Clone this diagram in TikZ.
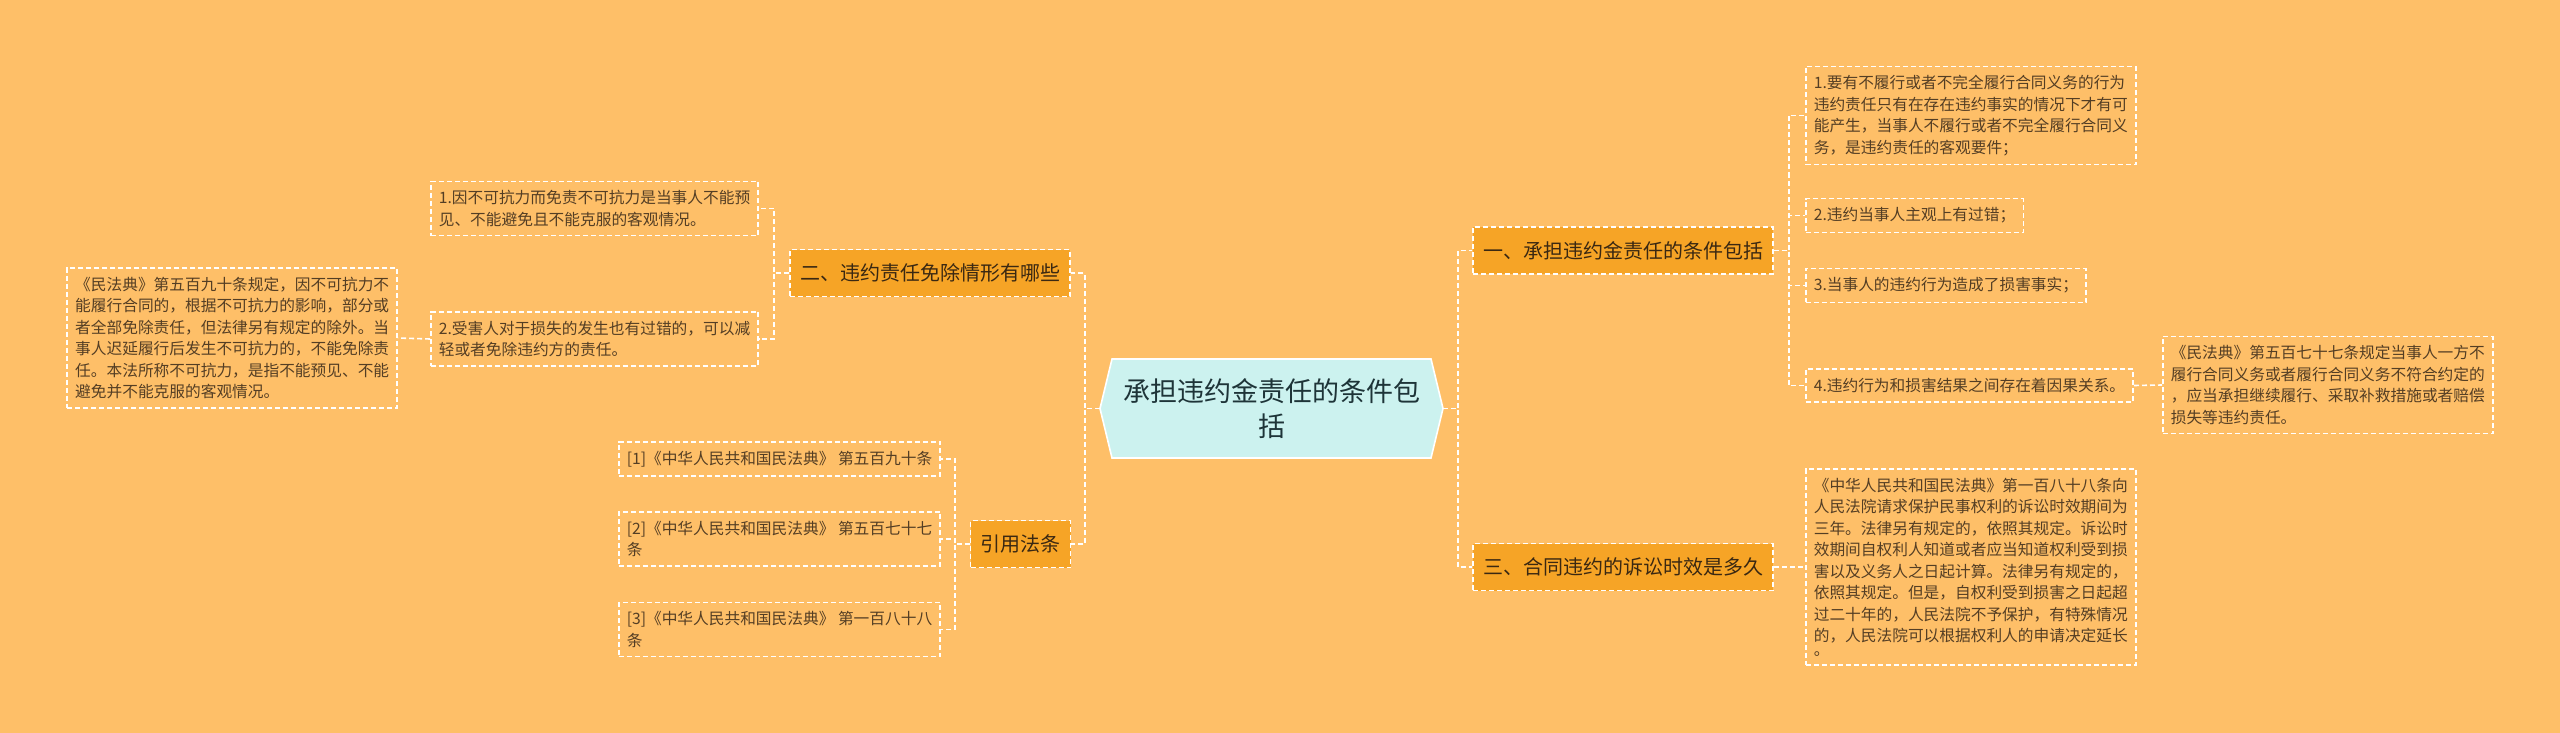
\documentclass[tikz,border=0pt]{standalone}
\usepackage{fontspec}
\setmainfont{Noto Sans CJK SC}
\usepackage{tikz}
\definecolor{bgorange}{RGB}{254,191,104}
\definecolor{branchfill}{RGB}{246,164,38}
\definecolor{rootfill}{RGB}{204,242,239}
\definecolor{leaftext}{RGB}{84,62,36}
\definecolor{branchtext}{RGB}{58,40,18}
\definecolor{roottext}{RGB}{30,52,56}
\tikzstyle{linkline} = [white, line width=1.6pt, dash pattern=on 5pt off 3pt]
\tikzstyle{leafbox} = [draw=white, line width=1.6pt, dash pattern=on 5pt off 3pt,
    text=leaftext, align=left, inner xsep=8pt, inner ysep=9pt,
    font=\fontsize{15.7}{21.5}\selectfont]
\tikzstyle{branchbox} = [fill=branchfill, draw=white, line width=1.6pt,
    dash pattern=on 5pt off 3pt, text=branchtext, inner xsep=10pt, inner ysep=0pt,
    minimum height=47pt, font=\fontsize{20}{24}\selectfont]
\tikzstyle{rootbox} = [text=roottext, align=center, minimum width=343pt,
    minimum height=99pt, inner sep=0pt, font=\fontsize{27}{35}\selectfont]
\tikzset{x=1pt,y=-1pt}

\begin{document}
\begin{tikzpicture}
\begin{scope}[scale=1]
    %background
    \useasboundingbox (0,0) rectangle (2560,733);
    \fill[bgorange] (0,0) rectangle (2560,733);
    %centre
    \filldraw[fill=rootfill, draw=white, line width=1.6pt]
        (1100,408.5) -- (1112,359) -- (1431,359) -- (1443,408.5)
        -- (1431,458) -- (1112,458) -- cycle;
    \node[rootbox] (root) at (1271.5,408.5) {承担违约金责任的条件包\\括};
    %branches
    \node[branchbox] (b1) at (1623,250.5) {一、承担违约金责任的条件包括};
    \node[branchbox] (b3) at (1623,567) {三、合同违约的诉讼时效是多久};
    \node[branchbox] (b2) at (930,273) {二、违约责任免除情形有哪些};
    \node[branchbox] (b4) at (1020.5,544) {引用法条};
    %right leaves
    \node[leafbox, anchor=west] (r11) at (1805,115.5) {1.要有不履行或者不完全履行合同义务的行为\\违约责任只有在存在违约事实的情况下才有可\\能产生，当事人不履行或者不完全履行合同义\\务，是违约责任的客观要件；};
    \node[leafbox, anchor=west] (r12) at (1805,215.5) {2.违约当事人主观上有过错；};
    \node[leafbox, anchor=west] (r13) at (1805,285.5) {3.当事人的违约行为造成了损害事实；};
    \node[leafbox, anchor=west] (r14) at (1805,385.5) {4.违约行为和损害结果之间存在着因果关系。};
    \node[leafbox, anchor=west] (r14a) at (2162,385) {《民法典》第五百七十七条规定当事人一方不\\履行合同义务或者履行合同义务不符合约定的\\，应当承担继续履行、采取补救措施或者赔偿\\损失等违约责任。};
    \node[leafbox, anchor=west] (r31) at (1805,567) {《中华人民共和国民法典》第一百八十八条向\\人民法院请求保护民事权利的诉讼时效期间为\\三年。法律另有规定的，依照其规定。诉讼时\\效期间自权利人知道或者应当知道权利受到损\\害以及义务人之日起计算。法律另有规定的，\\依照其规定。但是，自权利受到损害之日起超\\过二十年的，人民法院不予保护，有特殊情况\\的，人民法院可以根据权利人的申请决定延长\\[-8pt]。};
    %left leaves
    \node[leafbox, anchor=east] (l21) at (759,208.5) {1.因不可抗力而免责不可抗力是当事人不能预\\见、不能避免且不能克服的客观情况。};
    \node[leafbox, anchor=east] (l22) at (759,339) {2.受害人对于损失的发生也有过错的，可以减\\轻或者免除违约方的责任。};
    \node[leafbox, anchor=east] (l22a) at (398,338) {《民法典》第五百九十条规定，因不可抗力不\\能履行合同的，根据不可抗力的影响，部分或\\者全部免除责任，但法律另有规定的除外。当\\事人迟延履行后发生不可抗力的，不能免除责\\任。本法所称不可抗力，是指不能预见、不能\\避免并不能克服的客观情况。};
    \node[leafbox, anchor=east] (l41) at (941,459) {[1]《中华人民共和国民法典》 第五百九十条};
    \node[leafbox, anchor=east] (l42) at (941,539) {[2]《中华人民共和国民法典》 第五百七十七\\条};
    \node[leafbox, anchor=east] (l43) at (941,629.5) {[3]《中华人民共和国民法典》 第一百八十八\\条};
    %links
    \draw[linkline] (root.east) -- ++(15,0) |- (b1.west);
    \draw[linkline] (root.east) -- ++(15,0) |- (b3.west);
    \draw[linkline] (root.west) -- ++(-15,0) |- (b2.east);
    \draw[linkline] (root.west) -- ++(-15,0) |- (b4.east);
    \foreach \n in {r11,r12,r13,r14}
        \draw[linkline] (b1.east) -- ++(15,0) |- (\n.west);
    \draw[linkline] (r14.east) -- (r14a.west);
    \draw[linkline] (b3.east) -- (r31.west);
    \foreach \n in {l21,l22}
        \draw[linkline] (b2.west) -- ++(-15,0) |- (\n.east);
    \draw[linkline] (l22.west) -- (l22a.east);
    \foreach \n in {l41,l42,l43}
        \draw[linkline] (b4.west) -- ++(-15,0) |- (\n.east);
\end{scope}
\end{tikzpicture}
\end{document}
